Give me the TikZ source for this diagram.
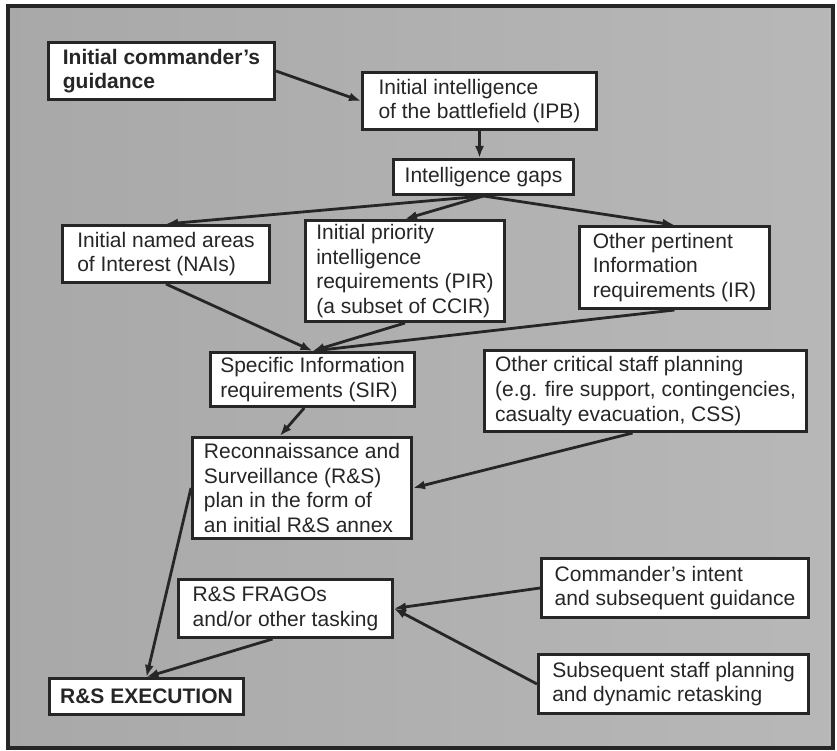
\documentclass[tikz,border=0pt]{standalone}
\usepackage{fontspec}
\setmainfont{Liberation Sans}
\usetikzlibrary{arrows.meta, positioning, calc}

\tikzset{
    box/.style={draw=black!85, line width=3pt, fill=white, align=left, inner sep=0pt,
        anchor=north west, text=black!85, font=\fontsize{21}{24.7}\selectfont},
    boldbox/.style={box, font=\fontsize{21}{24.7}\selectfont\bfseries},
    link/.style={draw=black!85, line width=2.8pt, -{Latex[length=12pt,width=9pt]}}
}

\begin{document}
\begin{tikzpicture}[x=1pt,y=-1pt]
\useasboundingbox (0,0) rectangle (837,751);
% Frame
\shade[left color=black!34, middle color=black!16, right color=black!28] (8,6) rectangle (833,748);
\draw[line width=3.5pt, black!85] (8,6) rectangle (833,748);

% Boxes
\node[boldbox, minimum width=226pt, minimum height=57pt] (guide) at (47,41) {Initial commander's\\guidance};
\node[box, minimum width=234pt, minimum height=57pt] (ipb) at (361,71) {Initial intelligence\\of the battlefield (IPB)};
\node[box, minimum width=180pt, minimum height=35pt] (gaps) at (392,158) {Intelligence gaps};
\node[box, minimum width=207pt, minimum height=57pt] (nai) at (61,224) {Initial named areas\\of Interest (NAIs)};
\node[box, minimum width=199pt, minimum height=101pt] (pir) at (304,219) {Initial priority\\intelligence\\requirements (PIR)\\(a subset of CCIR)};
\node[box, minimum width=190pt, minimum height=82pt] (ir) at (578,225) {Other pertinent\\Information\\requirements (IR)};
\node[box, minimum width=204pt, minimum height=54pt] (sir) at (209,351) {Specific Information\\requirements (SIR)};
\node[box, minimum width=322pt, minimum height=81pt] (staff) at (483,349) {Other critical staff planning\\(e.g. fire support, contingencies,\\casualty evacuation, CSS)};
\node[box, minimum width=219pt, minimum height=101pt] (rs) at (191,436) {Reconnaissance and\\Surveillance (R\&S)\\plan in the form of\\an initial R\&S annex};
\node[box, minimum width=214pt, minimum height=58pt] (frago) at (177,578) {R\&S FRAGOs\\and/or other tasking};
\node[box, minimum width=267pt, minimum height=59pt] (intent) at (540,557) {Commander's intent\\and subsequent guidance};
\node[box, minimum width=270pt, minimum height=59pt] (retask) at (537,653) {Subsequent staff planning\\and dynamic retasking};
\node[boldbox, minimum width=194pt, minimum height=36pt] (exec) at (48,677) {R\&S EXECUTION};

% Connectors
\draw[link] (guide.east) -- (ipb.west);
\draw[link] (ipb.south) -- (ipb.south |- gaps.north);
\foreach \t in {nai,pir,ir}
    \draw[link] (gaps.south) -- (\t.north);
\foreach \s in {nai,pir,ir}
    \draw[link] (\s.south) -- (sir.north);
\draw[link] ($(sir.south west)!0.46!(sir.south east)$) -- ($(rs.north west)!0.4!(rs.north east)$);
\draw[link] ($(staff.south west)!0.46!(staff.south east)$) -- (rs.east);
\draw[link] (rs.west) -- (exec.north);
\draw[link] ($(frago.south west)!0.44!(frago.south east)$) -- (exec.north);
\foreach \s in {intent,retask}
    \draw[link] (\s.west) -- (frago.east);
\end{tikzpicture}
\end{document}
